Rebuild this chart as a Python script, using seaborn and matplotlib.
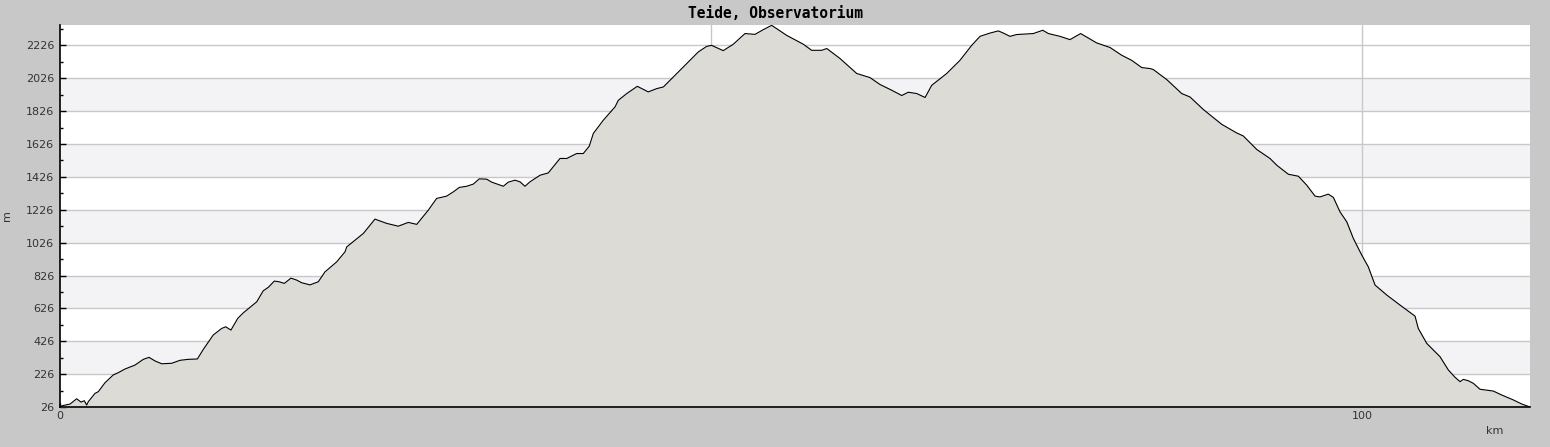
import matplotlib

matplotlib.use("Agg")
import matplotlib.pyplot as plt  # noqa: E402
import pandas as pd  # noqa: E402
import seaborn as sns  # noqa: E402
from matplotlib.ticker import FixedLocator, FuncFormatter, MultipleLocator  # noqa: E402

# elevation profile (distance in km, elevation in m)
distance_km = [
    0.0, 0.18, 0.77, 1.28, 1.61, 1.87, 2.05, 2.17, 2.69, 2.94, 3.46, 4.09, 4.48, 4.99,
    5.76, 6.40, 6.84, 7.30, 7.81, 8.58, 9.22, 9.85, 10.55, 11.01, 11.77, 12.42, 12.73,
    13.13, 13.65, 14.08, 15.11, 15.61, 16.00, 16.46, 16.82, 17.23, 17.74, 18.18, 18.56,
    19.20, 19.84, 20.35, 21.25, 21.89, 22.02, 23.30, 24.19, 25.09, 25.98, 26.75, 27.40,
    28.29, 28.93, 29.70, 30.21, 30.67, 31.24, 31.74, 32.20, 32.77, 33.16, 34.05, 34.43,
    34.95, 35.33, 35.71, 36.10, 36.87, 37.50, 38.40, 38.92, 39.68, 40.19, 40.65, 40.96,
    41.73, 42.63, 42.88, 43.53, 44.34, 45.18, 45.83, 46.34, 47.24, 48.13, 49.02, 49.67,
    50.05, 50.94, 51.71, 52.61, 53.38, 54.02, 54.66, 55.81, 57.09, 57.73, 58.50, 58.89,
    59.91, 61.19, 62.21, 62.98, 63.88, 64.65, 65.15, 65.80, 66.44, 66.95, 68.10, 69.12,
    70.02, 70.66, 71.43, 72.07, 72.45, 72.96, 73.48, 74.75, 75.48, 75.91, 76.80, 77.57,
    78.39, 79.62, 80.65, 81.54, 82.31, 83.08, 83.72, 83.97, 85.00, 86.15, 86.79, 87.81,
    89.22, 90.38, 90.88, 91.91, 92.93, 93.45, 94.34, 95.11, 95.75, 96.39, 96.77, 97.41,
    97.80, 98.31, 98.83, 99.33, 99.98, 100.48, 101.00, 101.90, 102.92, 104.07, 104.32,
    104.97, 105.99, 106.63, 107.14, 107.53, 107.78, 108.16, 108.55, 109.06, 110.08,
    110.73, 111.62, 112.27, 112.90,
]
elevation_m = [
    26, 34, 44, 76, 56, 64, 38, 58, 109, 119, 174, 221, 235, 257,
    281, 316, 328, 306, 289, 292, 310, 316, 318, 377, 464, 504, 514,
    494, 565, 599, 666, 733, 754, 792, 788, 778, 810, 798, 782,
    769, 788, 848, 909, 970, 1000, 1082, 1169, 1143, 1126, 1149, 1137,
    1224, 1295, 1309, 1335, 1362, 1369, 1382, 1414, 1412, 1394, 1369, 1394,
    1406, 1396, 1369, 1396, 1436, 1450, 1538, 1538, 1568, 1568, 1613, 1690,
    1771, 1852, 1892, 1933, 1977, 1943, 1963, 1973, 2044, 2115, 2186, 2220,
    2226, 2194, 2233, 2298, 2293, 2322, 2348, 2287, 2233, 2196, 2196, 2207,
    2146, 2055, 2030, 1988, 1953, 1921, 1941, 1933, 1909, 1983, 2055, 2135,
    2226, 2281, 2301, 2314, 2301, 2281, 2292, 2298, 2318, 2298, 2281, 2261,
    2298, 2241, 2213, 2166, 2135, 2091, 2085, 2079, 2018, 1933, 1912, 1836,
    1746, 1693, 1675, 1593, 1538, 1497, 1442, 1430, 1376, 1309, 1304, 1321,
    1301, 1213, 1152, 1052, 950, 879, 768, 707, 646, 579, 504,
    413, 332, 251, 207, 180, 194, 186, 170, 134, 123,
    99, 69, 44, 26,
]
title = "Teide, Observatorium"
y_ticks = [26, 226, 426, 626, 826, 1026, 1226, 1426, 1626, 1826, 2026, 2226]
shaded_bands = [226, 626, 1026, 1426, 1826]
x_labelled = [0, 100]
x_gridlines = [50, 100]

profile = pd.DataFrame({"km": distance_km, "m": elevation_m})

sns.set_style("white")
plt.rcParams["font.family"] = ["DejaVu Sans"]

fig = plt.figure(figsize=(15.5, 4.47), dpi=100, facecolor="#c8c8c8")
ax = fig.add_axes([60 / 1550, 40 / 447, 1470 / 1550, 382 / 447])
ax.set_facecolor("white")

# alternating horizontal bands
for lo in shaded_bands:
    ax.axhspan(lo, lo + 200, color="#f3f2f5", zorder=0, lw=0)
for y in y_ticks[1:]:
    ax.axhline(y, color="#c8c8c8", lw=1, zorder=0.5)
for x in x_gridlines:
    ax.axvline(x, color="#c8c8c8", lw=1, zorder=0.5)

ax.fill_between(profile["km"], profile["m"], 0, color="#dcdbd6", lw=0, zorder=1)
sns.lineplot(data=profile, x="km", y="m", color="black", lw=0.8, ax=ax, zorder=2,
             estimator=None, sort=False)

ax.set_xlim(0, 112.9)
ax.set_ylim(26, 2350)

ax.yaxis.set_major_locator(FixedLocator(y_ticks))
ax.yaxis.set_minor_locator(FixedLocator([t + 100 for t in y_ticks]))
ax.xaxis.set_major_locator(MultipleLocator(10))
ax.xaxis.set_major_formatter(FuncFormatter(
    lambda v, _: f"{int(round(v))}" if int(round(v)) in x_labelled else ""))

ax.tick_params(axis="y", which="major", direction="in", length=4, width=1,
               color="black", labelsize=8, labelcolor="#333333", pad=4, left=True)
ax.tick_params(axis="y", which="minor", direction="in", length=2.5, width=1,
               color="black", left=True)
ax.tick_params(axis="x", which="major", direction="in", length=3, width=1,
               color="black", labelsize=8, labelcolor="#333333", pad=3, bottom=True)

for side in ("top", "right"):
    ax.spines[side].set_visible(False)
for side in ("left", "bottom"):
    ax.spines[side].set_color("black")
    ax.spines[side].set_linewidth(1.2)

ax.set_ylabel("m", fontsize=8, color="#333333")
ax.yaxis.set_label_coords(-0.0325, 0.5)
ax.set_xlabel("km", fontsize=8, color="#333333")
ax.xaxis.set_label_coords(0.976, -0.05)

fig.text(0.5, 1 - 14 / 447, title, ha="center", va="center", fontsize=10.5,
         family="DejaVu Sans Mono", weight="bold", color="black")

fig.savefig("out.png", dpi=100, facecolor=fig.get_facecolor())
